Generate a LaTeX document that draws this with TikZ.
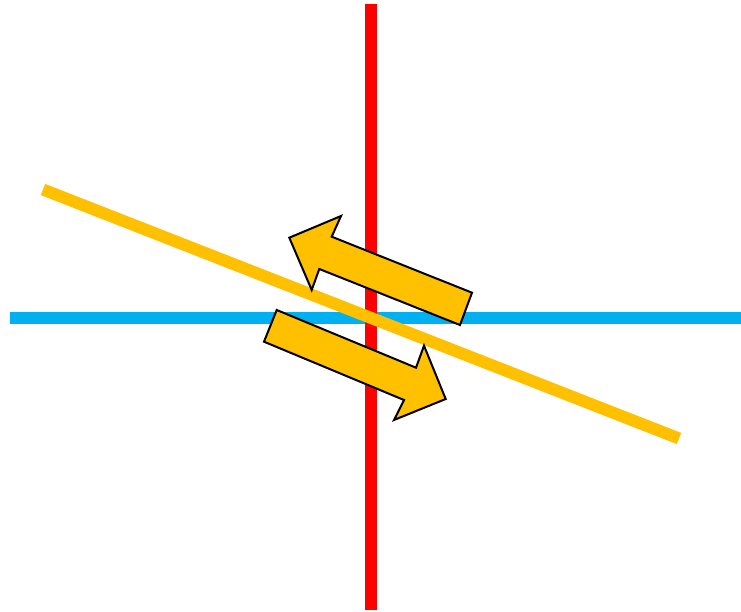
\documentclass[tikz,border=0pt]{standalone}
\definecolor{lred}{HTML}{FF0000}
\definecolor{lblue}{HTML}{00B0F0}
\definecolor{lyellow}{HTML}{FFC000}
\tikzset{
  axisline/.style={line width=12pt},
  blockarrow/.style={fill=lyellow, draw=black, line width=2pt, line join=miter}
}
\begin{document}
\begin{tikzpicture}[x=1pt,y=-1pt]
\useasboundingbox (0,0) rectangle (741,612);
\draw[axisline, lblue] (10,318) -- (741,318);
\draw[axisline, lred] (371,4) -- (371,610);
\draw[axisline, lyellow] (43,189.5) -- (679,438.5);
% upper arrow (pointing up-left)
\draw[blockarrow] (289.3,237.7) -- (341,216) -- (331.7,236.7) -- (472,292.7)
  -- (460,325) -- (319.3,269) -- (311.7,290) -- cycle;
% lower arrow (pointing down-right)
\draw[blockarrow] (445.7,399) -- (394,420) -- (404,400) -- (264,341.7)
  -- (276.7,310) -- (416,367.7) -- (424,345.7) -- cycle;
\end{tikzpicture}
\end{document}
